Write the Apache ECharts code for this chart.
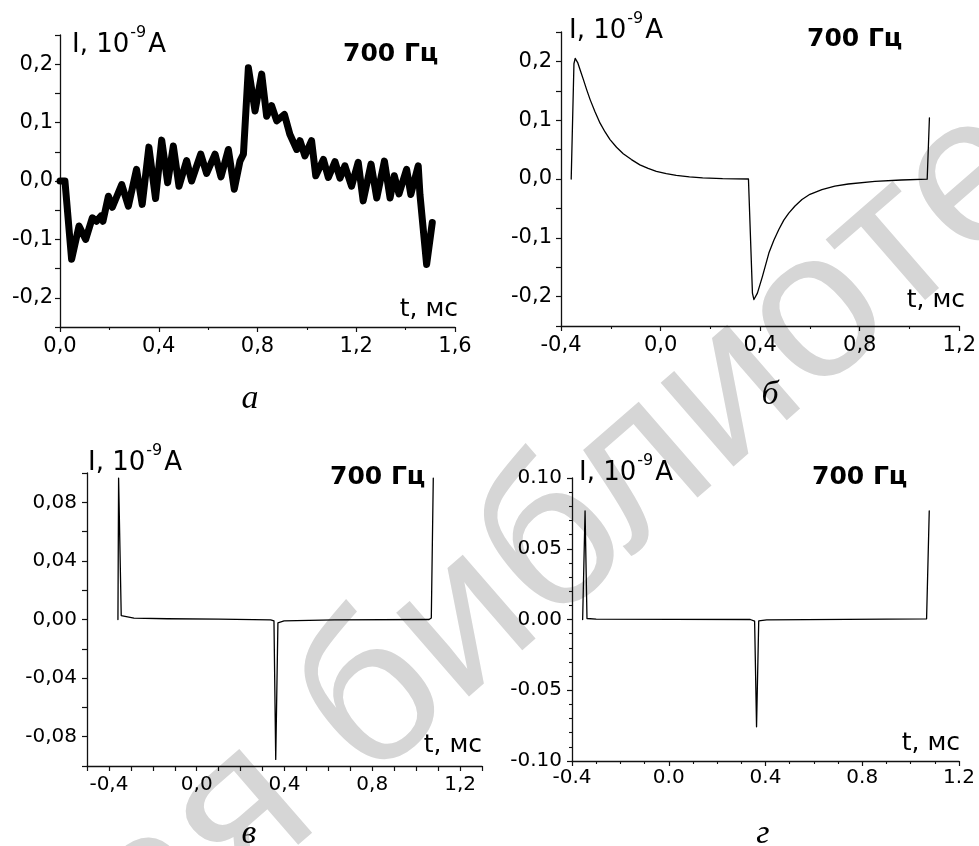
<!DOCTYPE html>
<html>
<head>
<meta charset="utf-8">
<script src="https://cdn.jsdelivr.net/npm/echarts@6/dist/echarts.min.js"></script>
<style>
  html, body { margin: 0; padding: 0; background: #fff; }
  #chart { width: 979px; height: 846px; }
</style>
</head>
<body>
<div id="chart"></div>
<script>
// panel а : measured current, noisy
const aT = [0, 0.02, 0.047, 0.077, 0.104, 0.131, 0.148, 0.166, 0.174, 0.196, 0.212, 0.25, 0.277, 0.31, 0.333,
  0.36, 0.387, 0.412, 0.436, 0.459, 0.482, 0.513, 0.533, 0.57, 0.594, 0.628, 0.652, 0.682, 0.706, 0.729,
  0.743, 0.763, 0.79, 0.817, 0.837, 0.857, 0.878, 0.909, 0.931, 0.959, 0.972, 0.992, 1.019, 1.036, 1.067,
  1.087, 1.114, 1.134, 1.154, 1.181, 1.208, 1.228, 1.26, 1.283, 1.314, 1.337, 1.354, 1.373, 1.404, 1.421,
  1.451, 1.458, 1.485, 1.508];
const aI = [0, 0, -0.134, -0.077, -0.1, -0.063, -0.069, -0.06, -0.069, -0.026, -0.045, -0.006, -0.043, 0.02, -0.04,
  0.058, -0.03, 0.07, -0.003, 0.06, -0.009, 0.035, 0, 0.046, 0.013, 0.046, 0.007, 0.054, -0.014, 0.034,
  0.046, 0.194, 0.12, 0.183, 0.111, 0.129, 0.103, 0.114, 0.08, 0.054, 0.069, 0.043, 0.069, 0.009, 0.037,
  0.006, 0.033, 0.005, 0.026, -0.009, 0.032, -0.034, 0.029, -0.029, 0.034, -0.029, 0.009, -0.022, 0.02, -0.023,
  0.026, -0.023, -0.143, -0.071];

// panel б
const bT = [-0.359, -0.348, -0.343, -0.338, -0.333, -0.322, -0.31, -0.297, -0.283, -0.263, -0.243, -0.223, -0.203,
  -0.177, -0.15, -0.117, -0.083, -0.05, -0.017, 0.023, 0.063, 0.116, 0.169, 0.249, 0.353, 0.358, 0.369, 0.375,
  0.381, 0.389, 0.399, 0.409, 0.422, 0.435, 0.455, 0.475, 0.495, 0.515, 0.54, 0.568, 0.6, 0.648, 0.7, 0.754,
  0.861, 0.967, 1.071, 1.08];
const bI = [0, 0.196, 0.205, 0.204, 0.198, 0.184, 0.169, 0.152, 0.135, 0.114, 0.095, 0.08, 0.067,
  0.054, 0.043, 0.033, 0.024, 0.018, 0.013, 0.009, 0.006, 0.0035, 0.002, 0.0006, 0, -0.002, -0.194, -0.205,
  -0.204, -0.194, -0.18, -0.166, -0.146, -0.126, -0.104, -0.086, -0.07, -0.058, -0.046, -0.035, -0.026, -0.018, -0.012, -0.0085,
  -0.004, -0.0017, -0.0003, 0.104];

// panel в
const cT = [-0.359, -0.356, -0.349, -0.344, -0.286, -0.134, 0.1, 0.337, 0.352, 0.36, 0.37, 0.398, 0.626, 1.059, 1.069, 1.078];
const cI = [0, 0.0965, 0.0965, 0.0027, 0.001, 0.0005, 0.0002, -0.0002, -0.001, -0.0955, -0.0023, -0.001, -0.0002, 0, 0.001, 0.0965];

// panel г
const dT = [-0.356, -0.346, -0.338, -0.3, 0.337, 0.355, 0.363, 0.372, 0.405, 1.066, 1.077];
const dI = [0, 0.0767, 0.0007, 0.0003, 0, -0.0012, -0.0758, -0.001, -0.0002, 0.0005, 0.0767];

// tick labels
const xTicksA = [0, 0.4, 0.8, 1.2, 1.6];
const xTicksB = [-0.4, 0, 0.4, 0.8, 1.2];
const yTicksAB = [-0.2, -0.1, 0, 0.1, 0.2];
const yTicksC = [-0.08, -0.04, 0, 0.04, 0.08];
const yTicksD = [-0.1, -0.05, 0, 0.05, 0.1];

const FONT = 'DejaVu Sans';

const measure = document.createElement('canvas').getContext('2d');
function textW(s, fs) {
  measure.font = fs + 'px "' + FONT + '"';
  return measure.measureText(s).width;
}

function pick(list, digits, comma) {
  return function (v) {
    if (Math.abs(v) < 1e-9) v = 0;
    for (const t of list) {
      if (Math.abs(t - v) < 1e-6) {
        const s = v.toFixed(digits);
        return comma ? s.replace('.', ',') : s;
      }
    }
    return '';
  };
}

function axis(kind, grid, o) {
  return {
    type: 'value', gridIndex: grid, min: o.min, max: o.max, interval: o.step,
    position: kind === 'x' ? 'bottom' : 'left',
    axisLine: { show: true, onZero: false, lineStyle: { color: '#111', width: 1.3 } },
    axisTick: { show: true, inside: false, length: 5, lineStyle: { color: '#111', width: 1.2 } },
    minorTick: { show: !!o.minor, splitNumber: o.minor || 5, length: 3, lineStyle: { color: '#111', width: 1.1 } },
    splitLine: { show: false },
    axisLabel: {
      show: true, margin: o.margin, fontFamily: FONT, fontSize: o.fs, color: '#000',
      showMinLabel: true, showMaxLabel: true, hideOverlap: false,
      formatter: pick(o.labels, o.digits, o.comma)
    }
  };
}

function zip(t, v) { return t.map((x, i) => [x, v[i]]); }

function line(i, t, v, w) {
  return {
    type: 'line', xAxisIndex: i, yAxisIndex: i, data: zip(t, v), showSymbol: false, animation: false,
    lineStyle: { color: '#000', width: w, cap: 'round', join: 'round' }
  };
}

function txt(x, y, s, fs, extra) {
  return {
    type: 'text', x: x, y: y, z: 50,
    style: Object.assign({ text: s, fontFamily: FONT, fontSize: fs, fill: '#000', align: 'left', verticalAlign: 'middle' }, extra || {})
  };
}

// "I, 10^-9 A" axis caption
function head(x, y) {
  const fs = 26, sfs = 16;
  const sx = x + textW('I, 10', fs) + 1;
  const ax = sx + textW('-9', sfs) + 2;
  return [txt(x, y, 'I, 10', fs), txt(sx, y - 12, '-9', sfs), txt(ax, y, 'A', fs)];
}

const chart = echarts.init(document.getElementById('chart'), null, { renderer: 'canvas' });

chart.setOption({
  backgroundColor: '#fff',
  animation: false,
  grid: [
    { left: 60, top: 35, width: 395, height: 292 },
    { left: 561, top: 32, width: 401, height: 294 },
    { left: 87, top: 473, width: 395, height: 293 },
    { left: 572, top: 478, width: 387, height: 283 }
  ],
  xAxis: [
    axis('x', 0, { min: 0, max: 1.6, step: 0.4, minor: 2, labels: xTicksA, digits: 1, comma: true, margin: 9, fs: 21 }),
    axis('x', 1, { min: -0.4, max: 1.2, step: 0.4, minor: 2, labels: xTicksB, digits: 1, comma: true, margin: 9, fs: 21 }),
    axis('x', 2, { min: -0.5, max: 1.3, step: 0.1, labels: xTicksB, digits: 1, comma: true, margin: 9, fs: 20 }),
    axis('x', 3, { min: -0.4, max: 1.2, step: 0.4, minor: 4, labels: xTicksB, digits: 1, comma: false, margin: 7, fs: 20 })
  ],
  yAxis: [
    axis('y', 0, { min: -0.25, max: 0.25, step: 0.05, labels: yTicksAB, digits: 1, comma: true, margin: 7, fs: 21 }),
    axis('y', 1, { min: -0.25, max: 0.25, step: 0.05, labels: yTicksAB, digits: 1, comma: true, margin: 9, fs: 21 }),
    axis('y', 2, { min: -0.1, max: 0.1, step: 0.02, labels: yTicksC, digits: 2, comma: true, margin: 10, fs: 20 }),
    axis('y', 3, { min: -0.1, max: 0.1, step: 0.05, minor: 5, labels: yTicksD, digits: 2, comma: false, margin: 10, fs: 20 })
  ],
  series: [
    line(0, aT, aI, 7),
    line(1, bT, bI, 1.3),
    line(2, cT, cI, 1.3),
    line(3, dT, dI, 1.3)
  ],
  graphic: [
    {
      type: 'text', x: 180, y: 1010, rotation: 41 * Math.PI / 180, z: -10, silent: true,
      style: { text: 'ая библиотека', fontFamily: 'Liberation Sans', fontSize: 210, fill: '#d6d6d6', align: 'left', verticalAlign: 'bottom' }
    },
    ...head(72, 45),
    txt(343, 54, '700 Гц', 25, { fontWeight: 'bold' }),
    txt(458, 309, 't, мс', 25, { align: 'right' }),
    ...head(569, 31),
    txt(807, 39, '700 Гц', 25, { fontWeight: 'bold' }),
    txt(965, 300, 't, мс', 25, { align: 'right' }),
    ...head(88, 463),
    txt(330, 477, '700 Гц', 25, { fontWeight: 'bold' }),
    txt(482, 745, 't, мс', 25, { align: 'right' }),
    ...head(579, 473),
    txt(812, 477, '700 Гц', 25, { fontWeight: 'bold' }),
    txt(960, 743, 't, мс', 25, { align: 'right' }),
    txt(250, 399, 'а', 34, { fontFamily: 'Liberation Serif', fontStyle: 'italic', align: 'center' }),
    txt(770, 395, 'б', 34, { fontFamily: 'Liberation Serif', fontStyle: 'italic', align: 'center' }),
    txt(249, 834, 'в', 34, { fontFamily: 'Liberation Serif', fontStyle: 'italic', align: 'center' }),
    txt(763, 834, 'г', 34, { fontFamily: 'Liberation Serif', fontStyle: 'italic', align: 'center' })
  ]
});
</script>
</body>
</html>
